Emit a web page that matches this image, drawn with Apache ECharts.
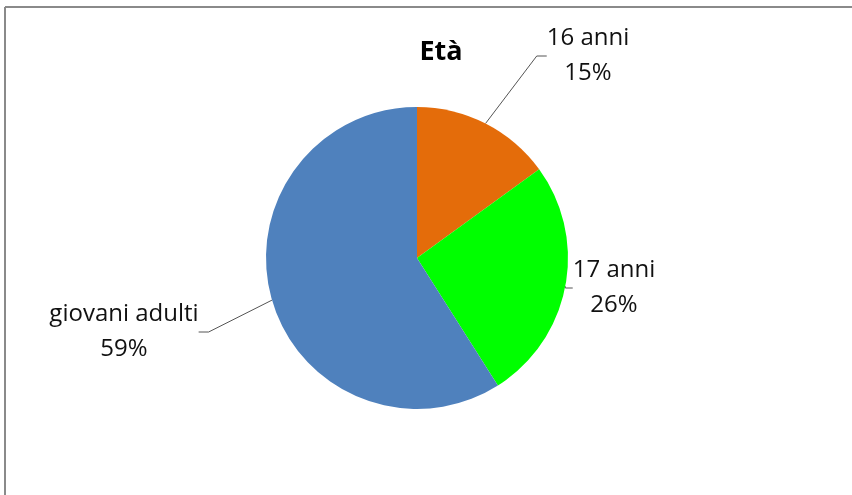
<!DOCTYPE html>
<html><head><meta charset="utf-8">
<script src="https://cdn.jsdelivr.net/npm/echarts@6/dist/echarts.min.js"></script>
<style>html,body{margin:0;padding:0;background:#fff}#c{width:852px;height:495px}</style>
</head><body><div id="c"></div>
<script>
const categories = ['16 anni', '17 anni', 'giovani adulti'];
const values = [15, 26, 59];
const colors = ['#E46C0A', '#00FF00', '#4F81BD'];
const labelPos = [
  {x: 588, y: 56, align: 'center'},
  {x: 614, y: 288, align: 'center'},
  {x: 124, y: 332, align: 'center'}
];
const chart = echarts.init(document.getElementById('c'));
chart.setOption({
  backgroundColor: '#fff',
  title: {text: 'Età', left: 436, top: 34, textAlign: 'center',
    textStyle: {fontFamily: 'Open Sans', fontWeight: 'bold', fontSize: 27, color: '#000'}},
  graphic: [
    {type: 'line', shape: {x1: 5, y1: 7, x2: 852, y2: 7}, style: {stroke: '#8a8a8a', lineWidth: 2}},
    {type: 'line', shape: {x1: 5, y1: 7, x2: 5, y2: 495}, style: {stroke: '#8a8a8a', lineWidth: 2}}
  ],
  series: [{
    type: 'pie',
    center: [417, 258],
    radius: [0, 151],
    startAngle: 90,
    clockwise: true,
    animation: false,
    data: categories.map((n, i) => ({name: n, value: values[i], itemStyle: {color: colors[i]}})),
    label: {show: true, position: 'outside', formatter: '{b}\n{d}%',
      fontFamily: 'Open Sans', fontSize: 24, color: '#111', lineHeight: 35},
    labelLine: {show: true, length: 10, length2: 10, lineStyle: {color: '#555', width: 1}},
    labelLayout: function (p) {
      const l = labelPos[p.dataIndex];
      return {x: l.x, y: l.y, align: l.align, verticalAlign: 'middle'};
    }
  }]
});
</script></body></html>
